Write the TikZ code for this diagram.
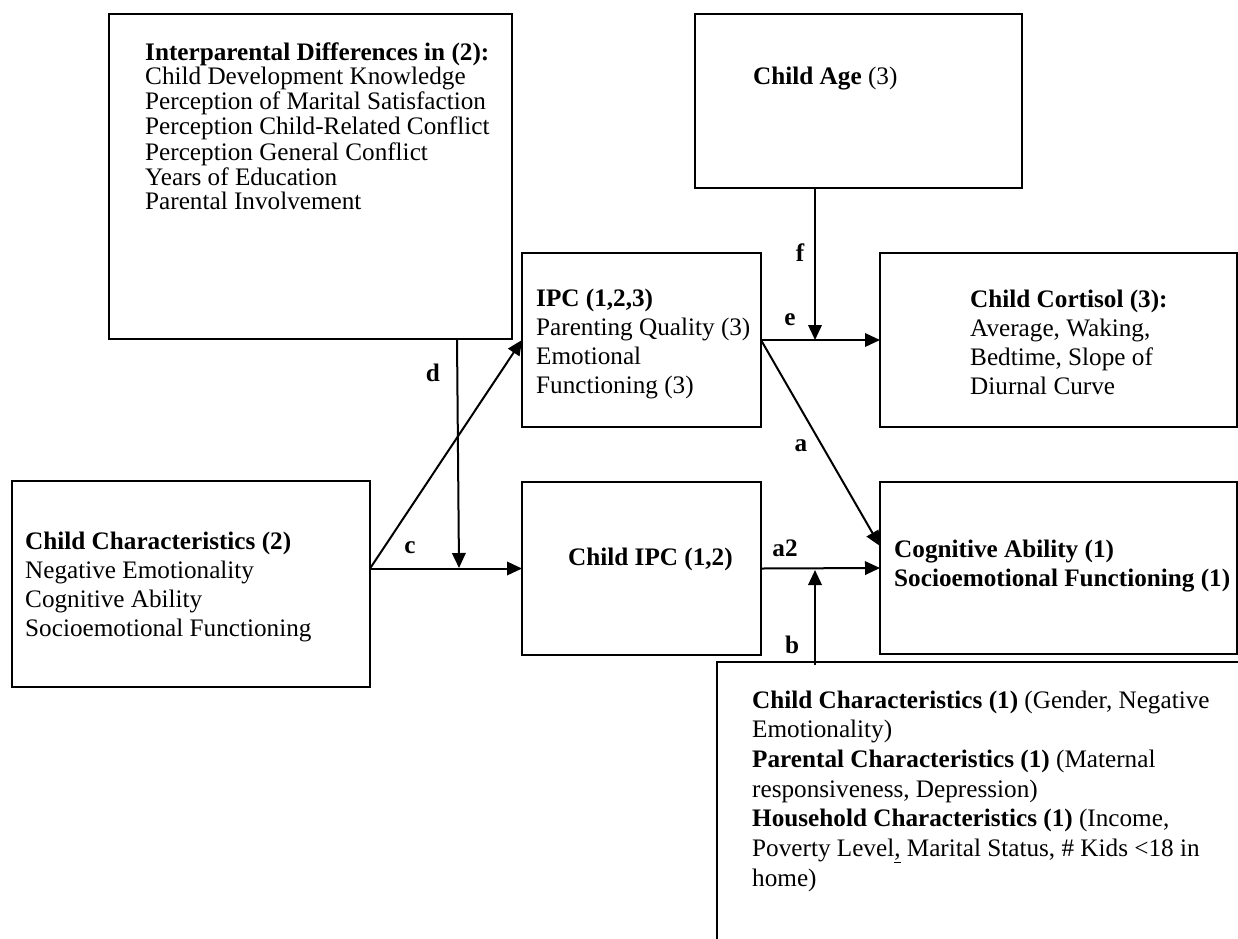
\documentclass[tikz,border=0pt]{standalone}
\usepackage{fontspec}
\setmainfont{Liberation Serif}
\usetikzlibrary{arrows.meta,calc}
\tikzset{
  box/.style={draw, line width=2pt, rectangle, inner sep=0pt, outer sep=0pt, anchor=north west},
  txt/.style={anchor=base west, inner sep=0pt, font=\fontsize{25.2}{29}\selectfont},
  tighttxt/.style={anchor=base west, inner sep=0pt, font=\fontsize{25.2}{24.4}\selectfont},
  widetxt/.style={anchor=base west, inner sep=0pt, font=\fontsize{25.2}{29.7}\selectfont},
  lbl/.style={inner sep=0pt, font=\fontsize{25.2}{29}\selectfont\bfseries},
  arr/.style={line width=2pt, -{Triangle[length=15pt,width=13.5pt]}}
}
\begin{document}
\begin{tikzpicture}[x=1pt,y=-1pt]
\useasboundingbox (0,0) rectangle (1238,938);
\clip (0,0) rectangle (1238,938);
% boxes
\node[box, minimum width=403pt, minimum height=325pt] (inter) at (109,14) {};
\node[box, minimum width=327pt, minimum height=174pt] (age) at (695,14) {};
\node[box, minimum width=239pt, minimum height=174pt] (ipc) at (522,253) {};
\node[box, minimum width=357pt, minimum height=174pt] (cort) at (880,253) {};
\node[box, minimum width=358pt, minimum height=206pt] (cchar) at (12,481) {};
\node[box, minimum width=239pt, minimum height=173pt] (cipc) at (522,482) {};
\node[box, minimum width=357pt, minimum height=172pt] (cog) at (880,482) {};
\node[box, minimum width=540pt, minimum height=300pt] (bot) at (717,662) {};
% texts
\node[tighttxt] (tinter) at (145,60) {\begin{tabular}[t]{@{}l@{}}\textbf{Interparental Differences in (2):}\\ Child Development Knowledge\\ Perception of Marital Satisfaction\\ Perception Child-Related Conflict\\ Perception General Conflict\\ Years of Education\\ Parental Involvement\end{tabular}};
\node[txt] (tage) at (753,84) {\textbf{Child Age} (3)};
\node[txt] (tipc) at (536,306) {\begin{tabular}[t]{@{}l@{}}\textbf{IPC (1,2,3)}\\ Parenting Quality (3)\\ Emotional\\ Functioning (3)\end{tabular}};
\node[txt] (tcort) at (970,307) {\begin{tabular}[t]{@{}l@{}}\textbf{Child Cortisol (3):}\\ Average, Waking,\\ Bedtime, Slope of\\ Diurnal Curve\end{tabular}};
\node[txt] (tcchar) at (25,549) {\begin{tabular}[t]{@{}l@{}}\textbf{Child Characteristics (2)}\\ Negative Emotionality\\ Cognitive Ability\\ Socioemotional Functioning\end{tabular}};
\node[txt] (tcipc) at (568,565) {\textbf{Child IPC (1,2)}};
\node[txt] (tcog) at (894,557) {\begin{tabular}[t]{@{}l@{}}\textbf{Cognitive Ability (1)}\\ \textbf{Socioemotional Functioning (1)}\end{tabular}};
\node[widetxt] (tbot) at (752,708) {\begin{tabular}[t]{@{}l@{}}\textbf{Child Characteristics (1)} (Gender, Negative\\ Emotionality)\\ \textbf{Parental Characteristics (1)} (Maternal\\ responsiveness, Depression)\\ \textbf{Household Characteristics (1)} (Income,\\ Poverty Level\underline{,} Marital Status, \# Kids <18 in\\ home)\end{tabular}};
% junction coordinates
\coordinate (cstart) at (cchar.east |- cipc.west);
\coordinate (dend) at (459,568);
\coordinate (fend) at (815,340);
\coordinate (bend) at (815,570);
\coordinate (bstart) at (815,665);
\coordinate (aend) at ($(cog.north west)+(0,64)$);
% connectors
\draw[arr] (cstart) -- (ipc.west);
\draw[arr] (cstart) -- (cipc.west);
\draw[arr] (inter.south -| 457,0) -- (dend);
\draw[arr] (ipc.east) -- (cort.west);
\draw[arr] (age.south -| fend) -- (fend);
\draw[arr] (ipc.east) -- (aend);
\draw[arr] (cipc.east) -- (cog.west);
\draw[arr] (bstart) -- (bend);
% labels
\node[lbl] (ld) at (433,373) {d};
\node[lbl] (lc) at (410,548) {c};
\node[lbl] (lf) at (800,253) {f};
\node[lbl] (le) at (790,320) {e};
\node[lbl] (la) at (801,446) {a};
\node[lbl] (la2) at (785,548) {a2};
\node[lbl] (lb) at (792,645) {b};
\end{tikzpicture}
\end{document}
